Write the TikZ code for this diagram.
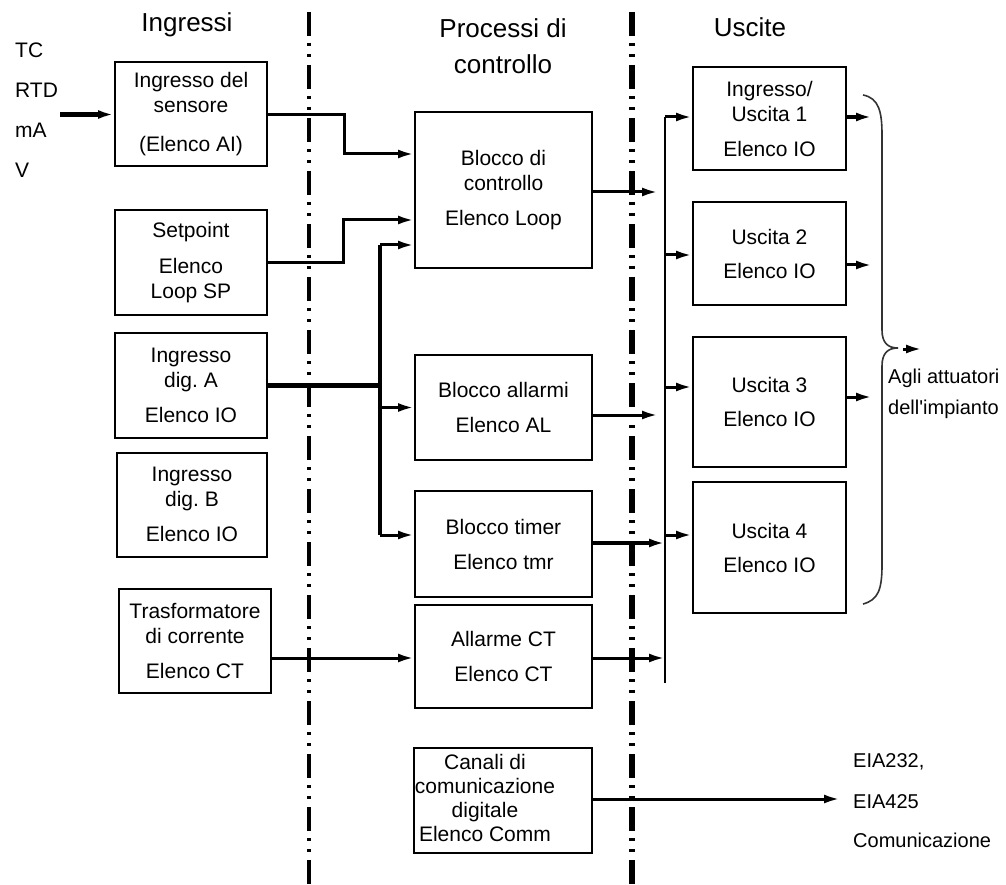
\documentclass[tikz,border=0pt]{standalone}
\usepackage{fontspec}
\setmainfont{Liberation Sans}
\usepackage{tikz}
\usetikzlibrary{arrows.meta}
\newcommand\blkfont{\fontsize{21}{25}\selectfont}
\newcommand\ttlfont{\fontsize{26}{36}\selectfont}
\newcommand\sidefont{\fontsize{20}{31}\selectfont}

\begin{document}
\begin{tikzpicture}[x=1pt,y=-1pt,
  blk/.style={draw,line width=2pt,inner sep=0pt,align=center,font=\blkfont},
  inbox/.style={blk,minimum width=152pt,minimum height=104pt},
  procbox/.style={blk,minimum width=177pt,minimum height=105pt},
  outbox/.style={blk,minimum width=153pt,minimum height=103pt},
  lbl/.style={font=\blkfont,inner sep=0pt,anchor=west},
  sidelbl/.style={font=\sidefont,inner sep=0pt,anchor=west,align=left},
  wire/.style={line width=3pt},
  fat/.style={line width=4.5pt},
  tip/.style={-{Latex[length=16pt,width=9pt]}},
  sepline/.style={line width=3.5pt,dash pattern=on 24pt off 7pt on 3pt off 8pt on 3pt off 8pt}]
\useasboundingbox (0,0) rectangle (1006,885);
\node[font=\ttlfont] (tin) at (187,25) {Ingressi};
\node[font=\ttlfont,align=center] (tproc) at (503,46) {Processi di\\controllo};
\node[font=\ttlfont] (tout) at (750,27) {Uscite};
\draw[sepline] (309,12) -- (309,885);
\draw[sepline,line width=5.5pt] (632,12) -- (632,885);
\node[lbl] (tc) at (15,50) {TC};
\node[lbl] (rtd) at (15,90) {RTD};
\node[lbl] (ma) at (15,130) {mA};
\node[lbl] (volt) at (15,170) {V};
\node[inbox] (sens) at (191,114.5) {Ingresso del\\sensore\\[14pt](Elenco AI)};
\node[inbox,minimum height=105pt] (setp) at (191,262.5) {Setpoint\\[11pt]Elenco\\Loop SP};
\node[inbox,minimum height=105pt] (diga) at (191,385.5) {Ingresso\\dig.\ A\\[10pt]Elenco IO};
\node[inbox,minimum width=150pt] (digb) at (192,504.5) {Ingresso\\dig.\ B\\[10pt]Elenco IO};
\node[inbox] (trasf) at (195,640.5) {Trasformatore\\di corrente\\[10pt]Elenco CT};
\node[procbox,minimum height=156pt] (ctrl) at (503.5,190) {Blocco di\\controllo\\[10pt]Elenco Loop};
\node[procbox] (allarm) at (503.5,407.5) {Blocco allarmi\\[10pt]Elenco AL};
\node[procbox,minimum height=106pt] (timer) at (503.5,544) {Blocco timer\\[10pt]Elenco tmr};
\node[procbox,minimum height=103pt] (allct) at (503.5,656.5) {Allarme CT\\[10pt]Elenco CT};
\node[procbox,minimum width=178pt] (comm) at (503,800.5) {};
\node[font=\fontsize{21}{24}\selectfont,align=center,inner sep=0pt] (commtxt) at (485,798) {Canali di\\comunicazione\\digitale\\Elenco Comm};
\node[outbox] (io1) at (769.5,118.5) {Ingresso/\\Uscita 1\\[10pt]Elenco IO};
\node[outbox] (out2) at (769.5,253.5) {Uscita 2\\[9pt]Elenco IO};
\node[outbox,minimum height=130pt] (out3) at (769.5,402) {Uscita 3\\[9pt]Elenco IO};
\node[outbox,minimum height=131pt] (out4) at (769.5,547.5) {Uscita 4\\[9pt]Elenco IO};
\node[sidelbl] (act) at (888,394) {Agli attuatori\\dell\textquotesingle impianto};
\node[sidelbl] (eia1) at (853,762) {EIA232,};
\node[sidelbl] (eia2) at (853,802) {EIA425};
\node[sidelbl] (eia3) at (853,840) {Comunicazione};
\coordinate (sig) at (60,114.5);
\coordinate (jtop) at (380,245);
\coordinate (jbot) at (380,535);
\coordinate (bustop) at (665,117);
\coordinate (busbot) at (665,683);
\coordinate (ctrlout) at (658,192);
\coordinate (alout) at (658,415);
\coordinate (o1) at (872,117);
\coordinate (o2) at (872,265);
\coordinate (o3) at (872,397);
\coordinate (bracetip) at (898,348);
\coordinate (actin) at (903,349);
\coordinate (actout) at (922,349);
\coordinate (commout) at (840,799);
\draw[fat,tip] (sig) -- (sens.west);
\draw[wire,tip] (sens.east) -| (344,154) -- (ctrl.west |- 344,154);
\draw[wire,tip] (setp.east) -| (343,220) -- (ctrl.west |- 343,220);
\draw[fat] (diga.east) -- (diga.east -| jtop);
\draw[fat] (jtop) -- (jbot);
\draw[wire,tip] (jtop) -- (ctrl.west |- jtop);
\draw[wire,tip] (allarm.west -| jtop) -- (allarm.west);
\draw[wire,tip] (jbot) -- (timer.west |- jbot);
\draw[wire,tip] (trasf.east |- 0,658) -- (allct.west |- 0,658);
\draw[line width=1.8pt] (bustop) -- (busbot);
\draw[wire,tip] (ctrl.east |- ctrlout) -- (ctrlout);
\draw[wire,tip] (allarm.east |- alout) -- (alout);
\draw[fat,tip] (timer.east |- 0,543) -- (bustop |- 0,543);
\draw[wire,tip] (allct.east |- 0,658) -- (bustop |- 0,658);
\draw[wire,tip] (bustop) -- (io1.west |- bustop);
\draw[wire,tip] (bustop |- 0,255) -- (out2.west |- 0,255);
\draw[wire,tip] (bustop |- 0,387) -- (out3.west |- 0,387);
\draw[wire,tip] (bustop |- 0,535) -- (out4.west |- 0,535);
\draw[fat,tip] (io1.east |- o1) -- (o1);
\draw[wire,tip] (out2.east |- o2) -- (o2);
\draw[wire,tip] (out3.east |- o3) -- (o3);
\draw[line width=1.6pt,black!80] (863,95) .. controls (879,98) and (882,112) .. (882,135) -- (882,330) .. controls (882,343) and (888,348) .. (bracetip) .. controls (888,348) and (882,353) .. (882,366) -- (882,565) .. controls (882,590) and (878,600) .. (863,604);
\draw[wire,tip] (actin) -- (actout);
\draw[wire,tip] (comm.east |- commout) -- (commout);
\end{tikzpicture}
\end{document}
